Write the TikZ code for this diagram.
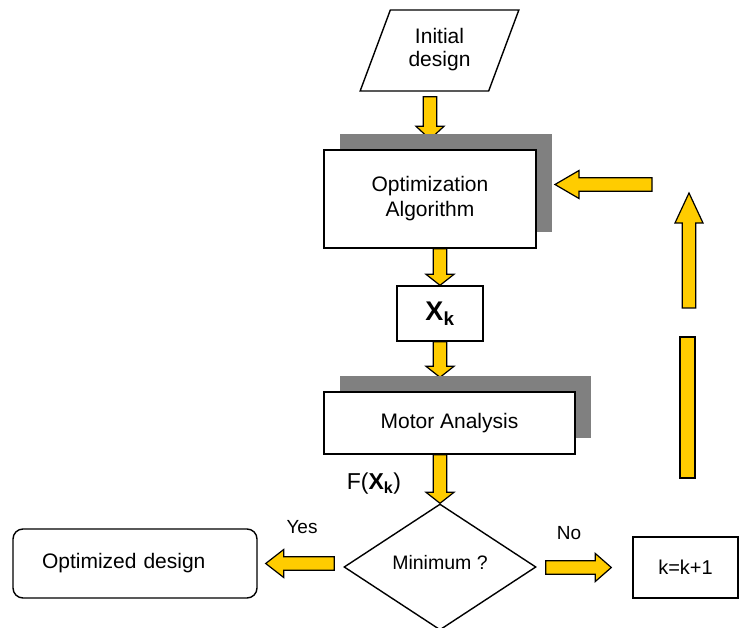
\documentclass[tikz,border=0pt]{standalone}
\usepackage{fontspec}
\setmainfont{Liberation Sans}
\usetikzlibrary{shapes.geometric,shadows,backgrounds,calc}
\definecolor{arrowyellow}{RGB}{255,204,0}
\definecolor{shadowgray}{RGB}{128,128,128}

\begin{document}
\begin{tikzpicture}[
  x=1pt, y=-1pt,
  every node/.style={font=\fontsize{21}{25}\selectfont},
  box/.style={
    draw=black,
    fill=white,
    line width=1.4pt,
    align=center,
    inner sep=0pt
  },
  shadowed/.style={
    drop shadow={fill=shadowgray, opacity=1, shadow xshift=16pt, shadow yshift=15.5pt}
  },
  lbl/.style={font=\fontsize{19}{22}\selectfont},
  barfill/.style={fill=arrowyellow, draw=black, line width=1.2pt},
  fat/.style={
    fill=arrowyellow,
    draw=black,
    line width=1.2pt,
    to path={
      let \p1=(\tikztostart), \p2=(\tikztotarget),
          \n1={atan2(\y2-\y1,\x2-\x1)}, \n2={veclen(\x2-\x1,\y2-\y1)} in
      ([shift={(\p1)},rotate=\n1]0,-6.8) -- ([shift={(\p1)},rotate=\n1]\n2-#1,-6.8)
      -- ([shift={(\p1)},rotate=\n1]\n2-#1,-14) -- ([shift={(\p1)},rotate=\n1]\n2,0)
      -- ([shift={(\p1)},rotate=\n1]\n2-#1,14) -- ([shift={(\p1)},rotate=\n1]\n2-#1,6.8)
      -- ([shift={(\p1)},rotate=\n1]0,6.8) -- cycle}
  },
  fat/.default=12,
]
\useasboundingbox (0,0) rectangle (740,628);

% Main column.
\node[box, trapezium, trapezium left angle=68, trapezium right angle=112,
  trapezium stretches=true, minimum width=159pt, minimum height=81pt,
  font=\fontsize{21}{23.5}\selectfont] (init) at (439.5,50.5)
  {\raisebox{6pt}{\begin{tabular}{@{}c@{}}Initial\\design\end{tabular}}};
\node[box, shadowed, minimum width=212pt, minimum height=98pt] (opt) at (430,199) {Optimization\\Algorithm};
\node[box, minimum width=86pt, minimum height=55pt] (xk) at (440,313.5)
  {\fontsize{27}{27}\selectfont\textbf{X\textsubscript{k}}};
\node[box, shadowed, minimum width=251pt, minimum height=62pt] (mot) at (449.5,423) {Motor Analysis};
\node[font=\fontsize{23}{25}\selectfont] (fx) at (374,484) {F(\textbf{X\textsubscript{k}})};

% Decision row.
\node[box, diamond, minimum width=192pt, minimum height=126pt] (dec) at (440,567)
  {\fontsize{19.5}{22}\selectfont\raisebox{10pt}{Minimum ?}};
\node[box, rounded corners=10pt, minimum width=244pt, minimum height=69pt,
  text width=186pt, align=left] (opted) at (135,563.5) {Optimized design};
\node[box, minimum width=105pt, minimum height=61pt, font=\fontsize{20}{24}\selectfont] (incr) at (685.5,567.5) {k=k+1};
\node[lbl] (yes) at (302,527) {Yes};
\node[lbl] (no) at (569,533) {No};

% Loop back to the optimizer.
\coordinate (barlow) at (687.5,478);
\coordinate (barhigh) at (687.5,337);
\coordinate (uplow) at (689,308);
\coordinate (uphigh) at (689,193);
\coordinate (backstart) at (652,184.5);
\coordinate (backend) at (555,184.5);

\begin{scope}[on background layer]
  \draw[fat=13] ($(init.south -| opt.north)+(0,5)$) to ($(opt.north)+(0,-10)$);
  \draw[fat=11] (opt.south -| xk.north) to (xk.north);
  \draw[fat=11] (xk.south) to ($(xk.south |- mot.north)+(0,-14)$);
  \draw[fat=11] (mot.south -| dec.north) to (dec.north);
  \draw[fat=18] ($(dec.west |- opted.east)+(-9,0)$) to ($(opted.east)+(8,0)$);
  \draw[fat=16] ($(dec.east |- incr.west)+(9,0)$) to ($(incr.west)+(-21,0)$);
  \draw[barfill] ($(barlow)+(-7.5,0)$) rectangle ($(barhigh)+(7.5,0)$);
  \draw[fat=30] (uplow) to (uphigh);
  \draw[fat=24] (backstart) to (backend);
\end{scope}

\end{tikzpicture}
\end{document}
